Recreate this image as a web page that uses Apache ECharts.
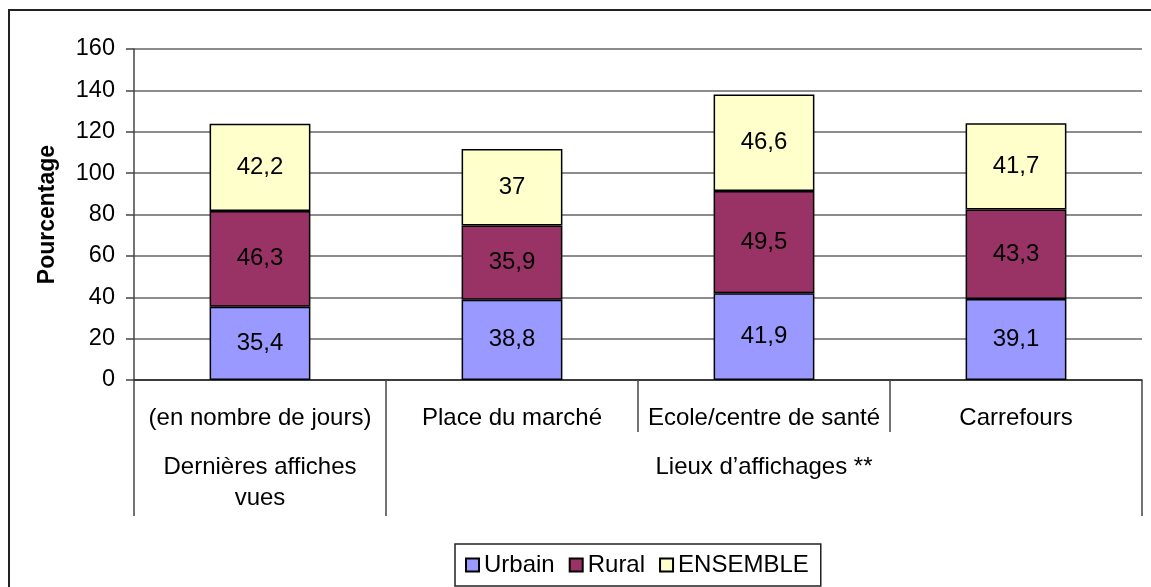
<!DOCTYPE html>
<html>
<head>
<meta charset="utf-8">
<style>
  html, body { margin: 0; padding: 0; background: #fff; overflow: hidden; }
  #chart { width: 1151px; height: 587px; }
  #frame { position: absolute; left: 8px; top: 9px; width: 1300px; height: 800px;
           border: 2px solid #222; pointer-events: none; box-sizing: border-box; }
</style>
<script src="https://cdn.jsdelivr.net/npm/echarts@6/dist/echarts.min.js"></script>
</head>
<body>
<div id="chart"></div>
<div id="frame"></div>
<script>
var chart = echarts.init(document.getElementById('chart'));

// values
var categories = ['(en nombre de jours)', 'Place du marché', 'Ecole/centre de santé', 'Carrefours'];
var groups = ['Dernières affiches\nvues', '', 'Lieux d’affichages **', ''];
var urbain = [35.4, 38.8, 41.9, 39.1];
var rural = [46.3, 35.9, 49.5, 43.3];
var ensemble = [42.2, 37, 46.6, 41.7];
var yTicks = [0, 20, 40, 60, 80, 100, 120, 140, 160];

var font = "'Liberation Sans', Arial, sans-serif";

function frNum(v) {
    return String(v).replace('.', ',');
}

function barSeries(name, data, color) {
    return {
        name: name,
        type: 'bar',
        stack: 'total',
        barWidth: '40%',
        data: data,
        itemStyle: { color: color, borderColor: '#000', borderWidth: 1.5 },
        label: {
            show: true,
            position: 'inside',
            color: '#000',
            fontFamily: font,
            fontSize: 24,
            formatter: function (p) { return frNum(p.value); }
        }
    };
}

var option = {
    animation: false,
    textStyle: { fontFamily: font },
    grid: { left: 134, right: 9, top: 49, bottom: 207 },
    xAxis: [
        {
            type: 'category',
            data: categories,
            axisLine: { lineStyle: { color: '#222', width: 1.5 } },
            axisTick: { show: true, length: 52, lineStyle: { color: '#444', width: 1.5 } },
            axisLabel: { color: '#000', fontSize: 24, margin: 26, interval: 0 }
        },
        {
            type: 'category',
            data: groups,
            position: 'bottom',
            offset: 52,
            axisLine: { show: false },
            axisTick: {
                show: true,
                length: 84,
                lineStyle: { color: '#444', width: 1.5 },
                interval: function (idx) { return idx === 0 || idx === 1; }
            },
            axisLabel: { color: '#000', fontSize: 24, margin: 20, interval: 0, lineHeight: 31 },
            splitLine: { show: false }
        }
    ],
    yAxis: {
        type: 'value',
        min: yTicks[0],
        max: yTicks[yTicks.length - 1],
        interval: yTicks[1] - yTicks[0],
        name: 'Pourcentage',
        nameLocation: 'middle',
        nameGap: 75,
        nameTextStyle: { color: '#000', fontSize: 23, fontWeight: 'bold', fontFamily: font },
        axisLine: { show: true, lineStyle: { color: '#444', width: 1.5 } },
        axisTick: { show: true, length: 8, lineStyle: { color: '#444', width: 1.5 } },
        axisLabel: { color: '#000', fontSize: 23.5, margin: 19 },
        splitLine: { lineStyle: { color: '#666', width: 1.5 } }
    },
    legend: {
        bottom: 1,
        left: 455,
        icon: 'rect',
        itemWidth: 13,
        itemHeight: 13,
        itemGap: 14,
        borderColor: '#222',
        borderWidth: 1.5,
        padding: [9, 12, 9, 10],
        textStyle: { color: '#000', fontSize: 24, fontFamily: font },
        data: ['Urbain', 'Rural', 'ENSEMBLE']
    },
    series: [
        barSeries('Urbain', urbain, '#9999FF'),
        barSeries('Rural', rural, '#993366'),
        barSeries('ENSEMBLE', ensemble, '#FFFFCC')
    ]
};

chart.setOption(option);

window.onresize = chart.resize;
</script>
</body>
</html>
